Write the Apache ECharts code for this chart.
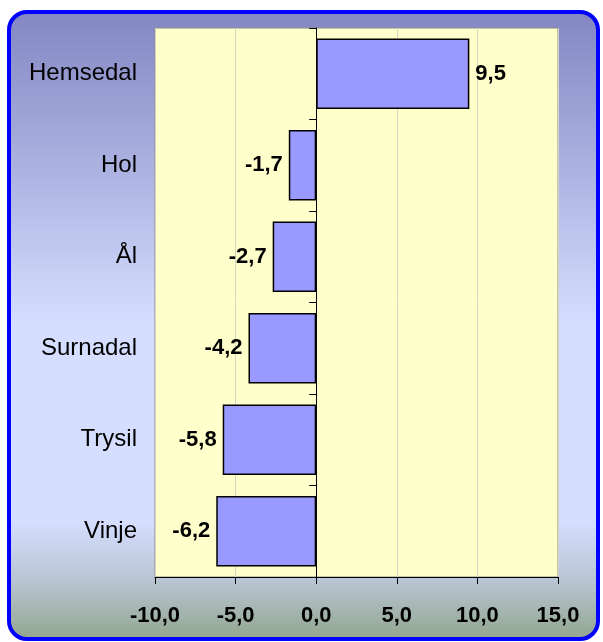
<!DOCTYPE html>
<html>
<head>
<meta charset="utf-8">
<script src="https://cdn.jsdelivr.net/npm/echarts@6/dist/echarts.min.js"></script>
<style>
  html, body { margin: 0; padding: 0; background: #fff; }
  #chart { width: 603px; height: 642px; }
</style>
</head>
<body>
<div id="chart"></div>
<script>
const categories = ['Hemsedal', 'Hol', 'Ål', 'Surnadal', 'Trysil', 'Vinje']
const values = [9.5, -1.7, -2.7, -4.2, -5.8, -6.2]
const xMin = -10
const xMax = 15
const xStep = 5

const font = '"Liberation Sans", Arial, sans-serif'
const fmt = v => Number(v).toFixed(1).replace('.', ',')

const chart = echarts.init(document.getElementById('chart'))

const option = {
  animation: false,
  graphic: [
    {
      type: 'rect',
      z: -10,
      shape: { x: 9, y: 12, width: 589, height: 627, r: 18 },
      style: {
        fill: new echarts.graphic.LinearGradient(0, 0, 0, 1, [
          { offset: 0, color: '#8386c2' },
          { offset: 0.5, color: '#d5deff' },
          { offset: 0.81, color: '#d5deff' },
          { offset: 0.9, color: '#bac6d6' },
          { offset: 1, color: '#91a58c' }
        ]),
        stroke: '#0000ff',
        lineWidth: 4
      }
    }
  ],
  grid: {
    left: 155,
    right: 45,
    top: 28,
    bottom: 65,
    show: true,
    backgroundColor: '#ffffcc',
    borderColor: '#8a8a8a',
    borderWidth: 1
  },
  xAxis: {
    type: 'value',
    min: xMin,
    max: xMax,
    interval: xStep,
    axisLine: { show: true, lineStyle: { color: '#000', width: 1 } },
    axisTick: { show: true, length: 7, lineStyle: { color: '#000' } },
    axisLabel: {
      color: '#000',
      fontFamily: font,
      fontWeight: 'bold',
      fontSize: 22,
      margin: 28,
      formatter: fmt
    },
    splitLine: { show: true, lineStyle: { color: '#d4d4c4', width: 1 } }
  },
  yAxis: [
    {
      type: 'category',
      data: categories,
      inverse: true,
      position: 'left',
      axisLine: { show: false, onZero: false },
      axisTick: { show: false },
      axisLabel: {
        color: '#000',
        fontFamily: font,
        fontSize: 24,
        margin: 18
      }
    },
    {
      type: 'category',
      data: categories,
      inverse: true,
      position: 'right',
      axisLine: { show: true, onZero: true, lineStyle: { color: '#000', width: 1 } },
      axisTick: { show: true, inside: true, length: 7, lineStyle: { color: '#000' } },
      axisLabel: { show: false }
    }
  ],
  series: [
    {
      type: 'bar',
      yAxisIndex: 0,
      barCategoryGap: '23%',
      data: values.map(v => ({
        value: v,
        label: { position: v >= 0 ? 'right' : 'left' }
      })),
      itemStyle: {
        color: '#9999ff',
        borderColor: '#000',
        borderWidth: 1.5
      },
      label: {
        show: true,
        distance: 6,
        color: '#000',
        fontFamily: font,
        fontWeight: 'bold',
        fontSize: 22,
        formatter: p => fmt(p.value)
      }
    }
  ]
}

chart.setOption(option)
</script>
</body>
</html>
